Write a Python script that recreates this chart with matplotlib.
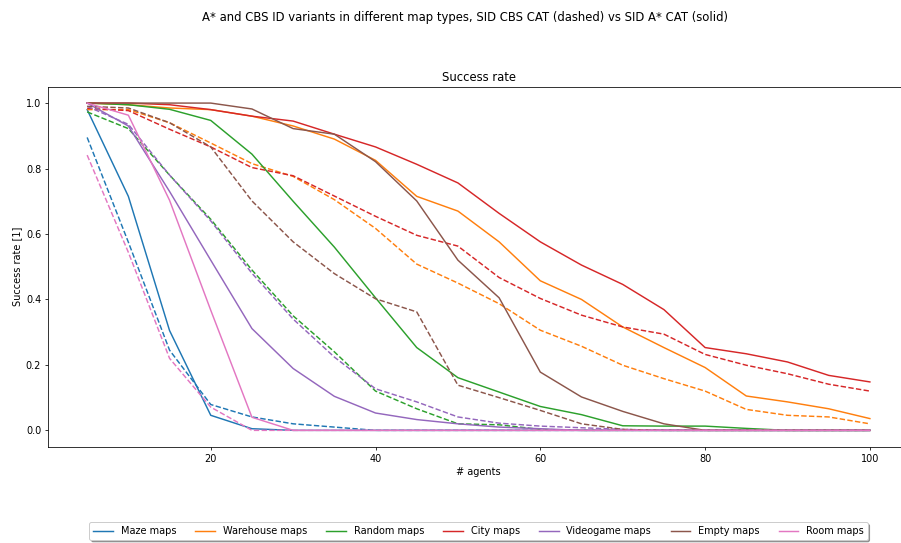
import matplotlib
matplotlib.use("Agg")
import matplotlib.pyplot as plt

agents = [5, 10, 15, 20, 25, 30, 35, 40, 45, 50, 55, 60, 65, 70, 75, 80, 85, 90, 95, 100]

map_types = ["Maze maps", "Warehouse maps", "Random maps", "City maps",
             "Videogame maps", "Empty maps", "Room maps"]

# SID A* CAT (solid)
maze_astar = [0.98, 0.715, 0.305, 0.046, 0.005, 0, 0, 0, 0, 0, 0, 0, 0, 0, 0, 0, 0, 0, 0, 0]
warehouse_astar = [1.0, 0.995, 0.985, 0.98, 0.96, 0.93, 0.89, 0.825, 0.715, 0.67,
                   0.576, 0.457, 0.4, 0.316, 0.253, 0.192, 0.105, 0.087, 0.066, 0.036]
random_astar = [1.0, 0.995, 0.981, 0.947, 0.844, 0.70, 0.56, 0.405, 0.253, 0.161,
                0.117, 0.073, 0.048, 0.014, 0.013, 0.013, 0.006, 0, 0, 0]
city_astar = [1.0, 1.0, 0.995, 0.98, 0.96, 0.945, 0.905, 0.866, 0.813, 0.756,
              0.663, 0.576, 0.505, 0.446, 0.369, 0.253, 0.234, 0.209, 0.168, 0.148]
videogame_astar = [1.0, 0.93, 0.73, 0.52, 0.311, 0.189, 0.104, 0.053, 0.033, 0.02,
                   0.01, 0.005, 0, 0, 0, 0, 0, 0, 0, 0]
empty_astar = [1.0, 1.0, 1.0, 1.0, 0.982, 0.922, 0.905, 0.821, 0.701, 0.52,
               0.405, 0.178, 0.102, 0.058, 0.02, 0, 0, 0, 0, 0]
room_astar = [1.0, 0.963, 0.703, 0.367, 0.04, 0, 0, 0, 0, 0, 0, 0, 0, 0, 0, 0, 0, 0, 0, 0]

# SID CBS CAT (dashed)
maze_cbs = [0.895, 0.575, 0.245, 0.079, 0.041, 0.02, 0.01, 0, 0, 0, 0, 0, 0, 0, 0, 0, 0, 0, 0, 0]
warehouse_cbs = [0.98, 0.98, 0.94, 0.878, 0.815, 0.776, 0.705, 0.617, 0.508, 0.45,
                 0.387, 0.306, 0.257, 0.199, 0.158, 0.12, 0.064, 0.046, 0.041, 0.02]
random_cbs = [0.973, 0.922, 0.78, 0.645, 0.49, 0.35, 0.24, 0.12, 0.066, 0.02,
              0.017, 0.003, 0, 0, 0, 0, 0, 0, 0, 0]
city_cbs = [0.984, 0.977, 0.92, 0.866, 0.803, 0.778, 0.716, 0.654, 0.596, 0.563,
            0.467, 0.403, 0.352, 0.316, 0.294, 0.232, 0.199, 0.173, 0.141, 0.12]
videogame_cbs = [0.99, 0.935, 0.78, 0.64, 0.48, 0.34, 0.224, 0.127, 0.087, 0.041,
                 0.022, 0.013, 0.008, 0.003, 0, 0, 0, 0, 0, 0]
empty_cbs = [0.99, 0.985, 0.94, 0.866, 0.701, 0.576, 0.479, 0.402, 0.362, 0.138,
             0.1, 0.061, 0.02, 0.003, 0, 0, 0, 0, 0, 0]
room_cbs = [0.841, 0.544, 0.22, 0.071, 0.0, 0, 0, 0, 0, 0, 0, 0, 0, 0, 0, 0, 0, 0, 0, 0]

astar_series = [maze_astar, warehouse_astar, random_astar, city_astar,
                videogame_astar, empty_astar, room_astar]
cbs_series = [maze_cbs, warehouse_cbs, random_cbs, city_cbs,
              videogame_cbs, empty_cbs, room_cbs]

fig = plt.figure(figsize=(901 / 70, 543 / 70), dpi=70)
ax = fig.add_axes([0.0533, 0.1773, 0.9556, 0.663])

for i, name in enumerate(map_types):
    color = f"C{i}"
    ax.plot(agents, astar_series[i], color=color, label=name)
    ax.plot(agents, cbs_series[i], color=color, linestyle="--")

# the original figure was a bit wider than the saved image, so the suptitle sits right of centre
fig.suptitle("A* and CBS ID variants in different map types, SID CBS CAT (dashed) vs SID A* CAT (solid)",
             x=0.516)
ax.set_title("Success rate")
ax.set_xlabel("# agents")
ax.set_ylabel("Success rate [1]")
ax.legend(loc="upper center", bbox_to_anchor=(0.5, -0.196), ncol=7, shadow=True)

fig.savefig("out.png", dpi=70)
